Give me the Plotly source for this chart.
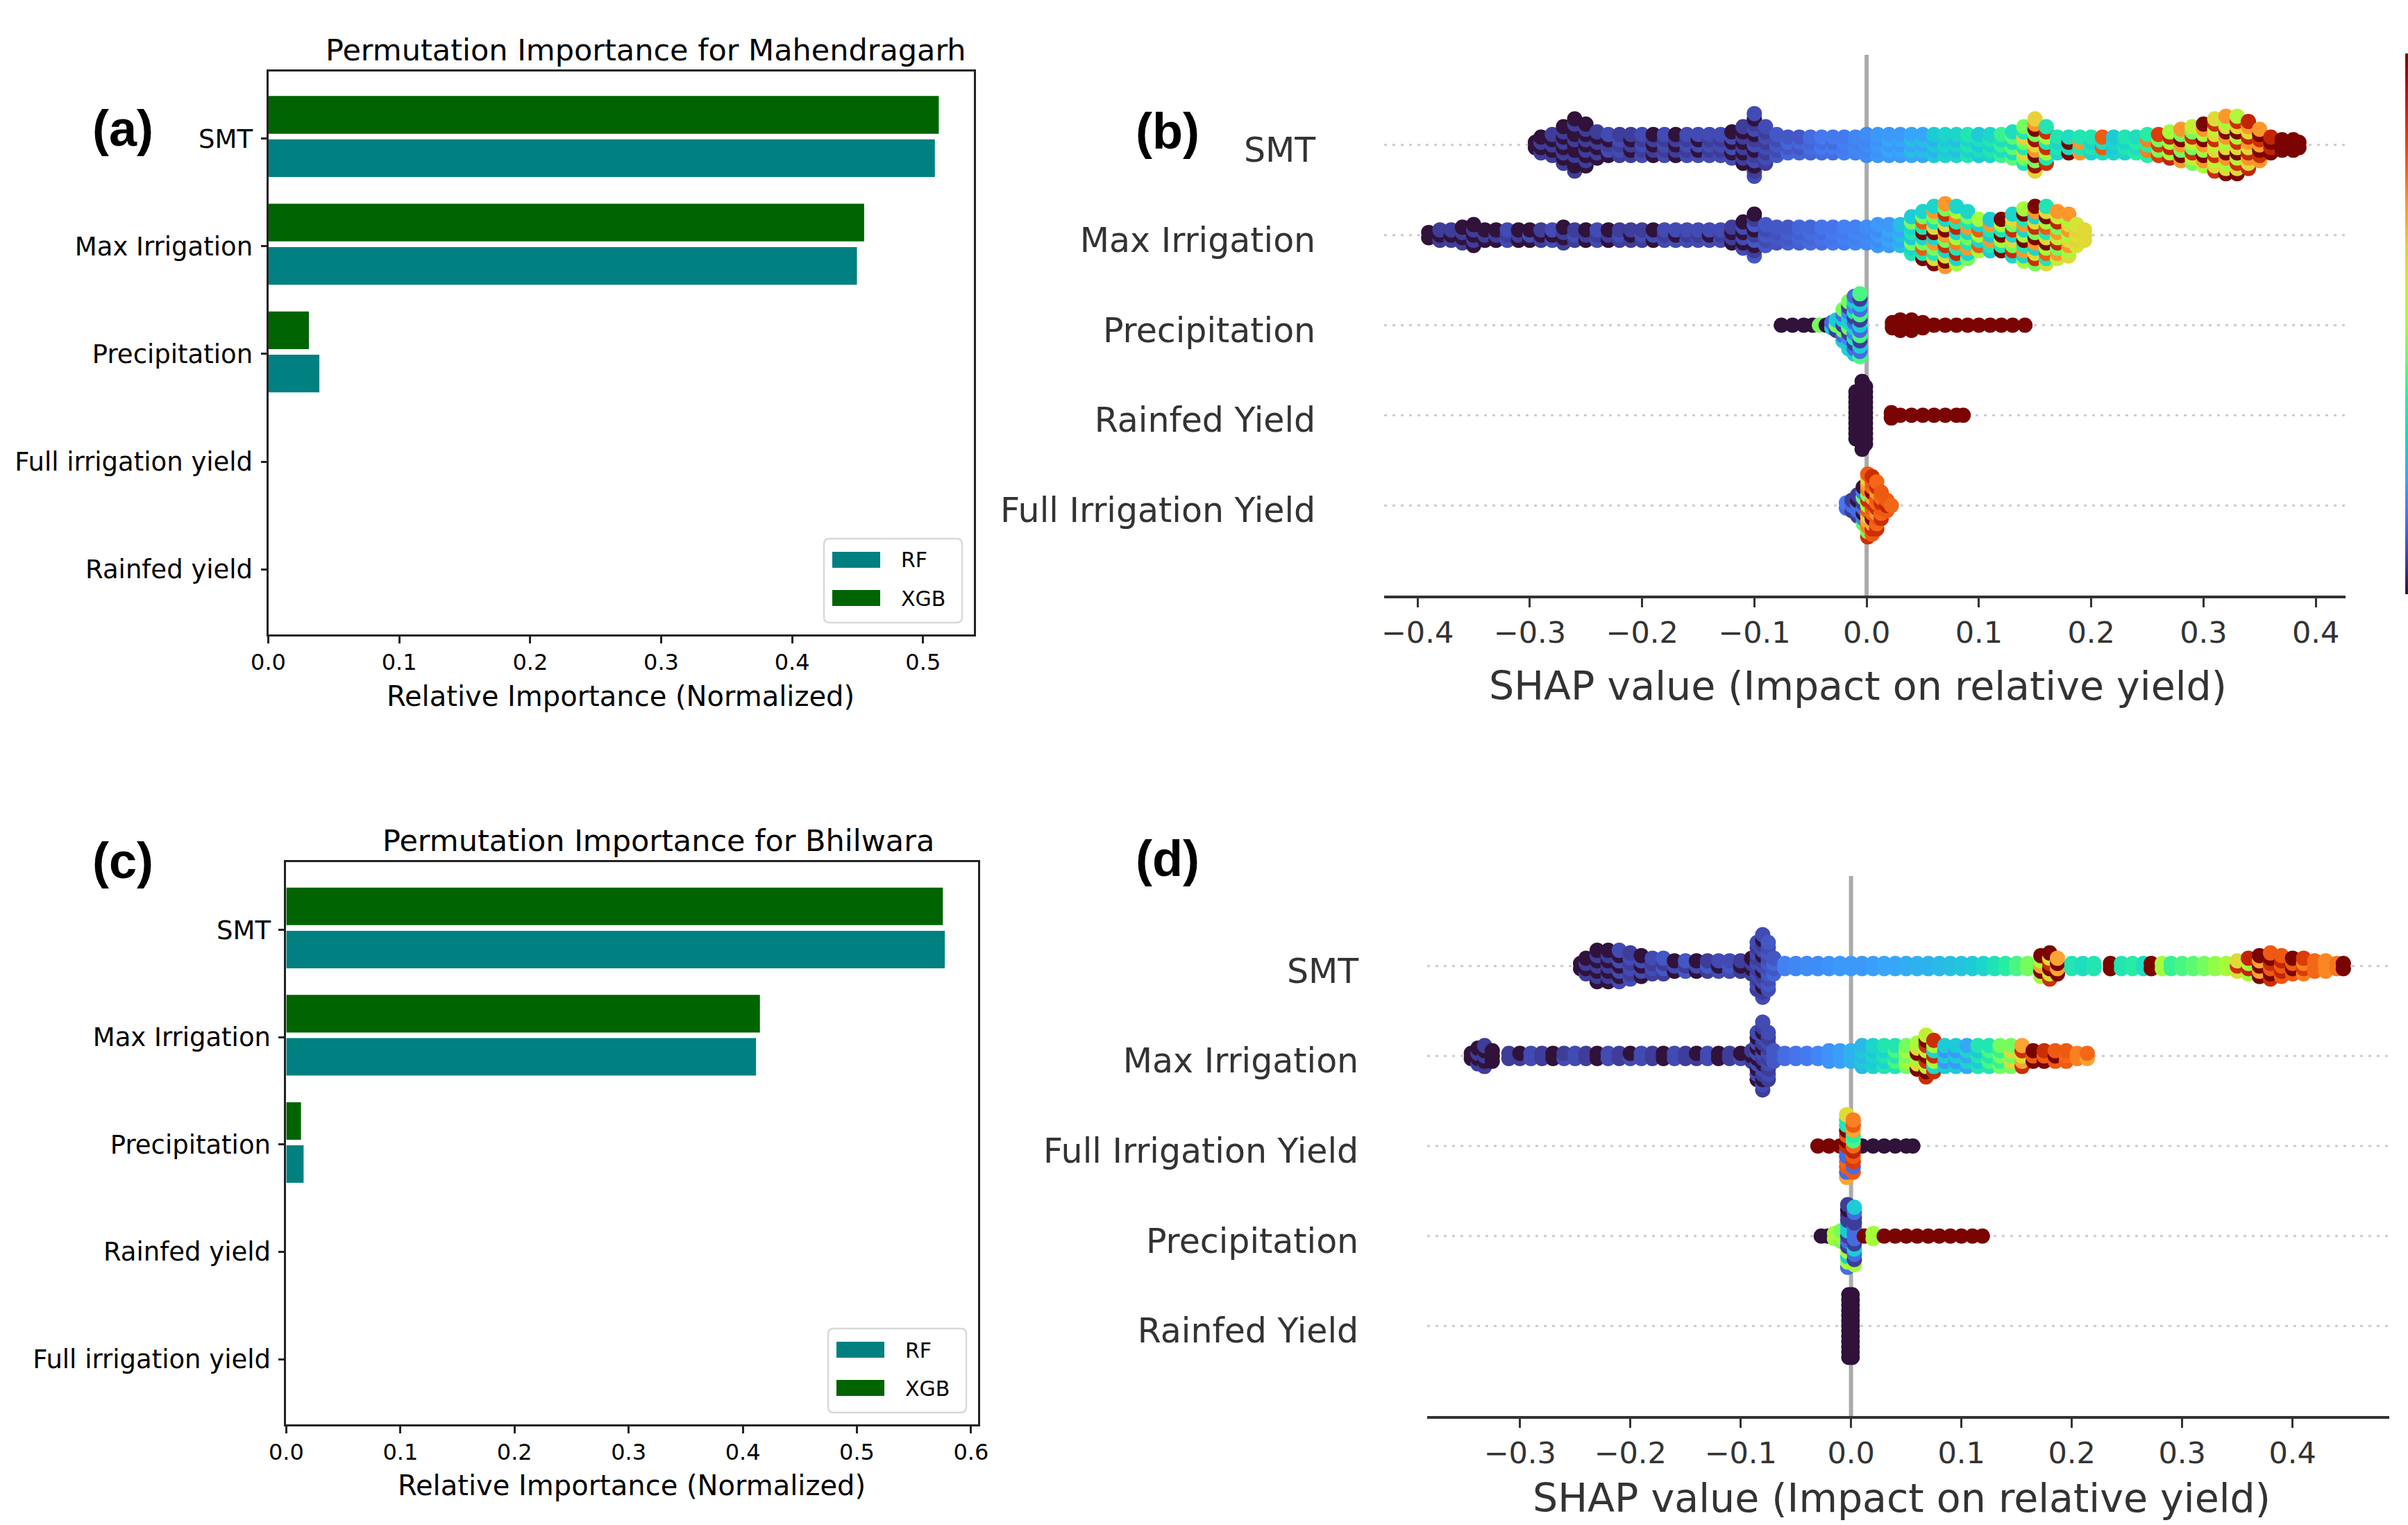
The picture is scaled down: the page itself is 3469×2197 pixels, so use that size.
import plotly.graph_objects as go

W, H = 3469, 2197
def px(x): return x / W
def py(y): return 1 - y / H

# ---------------- data: permutation importance ----------------
a_features = ["SMT", "Max Irrigation", "Precipitation", "Full irrigation yield", "Rainfed yield"]
a_rf = [0.509, 0.4495, 0.039, 0.0, 0.0]
a_xgb = [0.512, 0.455, 0.031, 0.0, 0.0]

c_features = ["SMT", "Max Irrigation", "Precipitation", "Rainfed yield", "Full irrigation yield"]
c_rf = [0.577, 0.4116, 0.0152, 0.0, 0.0]
c_xgb = [0.5753, 0.415, 0.0129, 0.0, 0.0]

# ---------------- data: SHAP beeswarm (value, stacked count, feature values) ----------------
b_features = ["Full Irrigation Yield", "Rainfed Yield", "Precipitation", "Max Irrigation", "SMT"]
d_features = ["Rainfed Yield", "Precipitation", "Full Irrigation Yield", "Max Irrigation", "SMT"]

b_smt = [
    (-0.295, 2, [0.0]), (-0.29, 4, [0.0, 0.06]), (-0.28, 5, [0.06, 0.0]), (-0.27, 8, [0.0, 0.06]),
    (-0.26, 11, [0.0, 0.06, 0.0]), (-0.25, 9, [0.06, 0.0]), (-0.24, 6, [0.0, 0.06]),
    (-0.23, 5, [0.06, 0.0, 0.08]), (-0.22, 5, [0.06, 0.08]), (-0.21, 5, [0.0, 0.06]),
    (-0.20, 5, [0.08, 0.06]), (-0.19, 5, [0.06, 0.0]), (-0.18, 5, [0.08, 0.06]),
    (-0.17, 5, [0.06, 0.0]), (-0.16, 5, [0.08, 0.06]), (-0.15, 5, [0.0, 0.08]),
    (-0.14, 5, [0.08, 0.06]), (-0.13, 5, [0.06, 0.08]), (-0.12, 6, [0.08, 0.0]),
    (-0.11, 8, [0.06, 0.0]), (-0.10, 13, [0.06, 0.0, 0.08]), (-0.09, 8, [0.08, 0.06]),
    (-0.08, 5, [0.1, 0.08]), (-0.07, 4, [0.1, 0.12]), (-0.06, 4, [0.12, 0.1]),
    (-0.05, 4, [0.13, 0.12]), (-0.04, 4, [0.13, 0.15]), (-0.03, 4, [0.15, 0.13]),
    (-0.02, 4, [0.16, 0.15]), (-0.01, 4, [0.17, 0.16]), (0.00, 5, [0.18, 0.17]),
    (0.01, 5, [0.19, 0.2]), (0.02, 5, [0.2, 0.22]), (0.03, 5, [0.22, 0.2]),
    (0.04, 5, [0.22, 0.26]), (0.05, 5, [0.26, 0.22]), (0.06, 5, [0.28, 0.24]),
    (0.07, 5, [0.28, 0.3]), (0.08, 5, [0.3, 0.26]), (0.09, 5, [0.3, 0.34]),
    (0.10, 5, [0.28, 0.32]), (0.11, 5, [0.34, 0.3]), (0.12, 5, [0.38, 0.32]),
    (0.13, 6, [0.32, 0.42]), (0.14, 8, [0.45, 0.62, 0.34]),
    (0.15, 11, [0.62, 0.95, 0.45, 1.0, 0.72]), (0.16, 8, [0.5, 0.88, 0.34]),
    (0.17, 4, [0.34, 0.3]), (0.18, 4, [1.0, 0.32]), (0.19, 4, [0.34, 0.72]),
    (0.20, 4, [0.3, 0.34]), (0.21, 4, [0.8, 0.32]), (0.22, 4, [0.3, 0.28]),
    (0.23, 4, [0.34, 0.3]), (0.24, 4, [0.36, 0.32]), (0.25, 5, [0.75, 0.36]),
    (0.26, 5, [0.85, 0.45]), (0.27, 6, [0.5, 0.9]), (0.28, 7, [0.45, 0.72, 1.0]),
    (0.29, 8, [0.55, 0.88, 0.45]), (0.30, 9, [0.5, 0.72, 1.0]), (0.31, 11, [0.55, 0.88, 0.6]),
    (0.32, 12, [0.5, 0.72, 1.0, 0.6]), (0.33, 12, [0.6, 0.88, 0.52, 1.0]),
    (0.34, 10, [0.72, 0.9, 0.6]), (0.35, 7, [0.88, 1.0, 0.72]), (0.36, 4, [1.0, 0.9]),
    (0.37, 3, [1.0]), (0.38, 3, [1.0]), (0.385, 2, [1.0]),
]
b_maxirr = [
    (-0.39, 2, [0.0]), (-0.38, 3, [0.0, 0.06]), (-0.37, 3, [0.06, 0.0]), (-0.36, 4, [0.0, 0.06]),
    (-0.35, 5, [0.0, 0.06]), (-0.34, 3, [0.06, 0.0]), (-0.33, 3, [0.0, 0.06]),
    (-0.32, 3, [0.06, 0.08]), (-0.31, 3, [0.0, 0.06]), (-0.30, 3, [0.08, 0.0]),
    (-0.29, 3, [0.06, 0.0]), (-0.28, 3, [0.0, 0.08]), (-0.27, 4, [0.06, 0.0]),
    (-0.26, 3, [0.08, 0.06]), (-0.25, 3, [0.0, 0.06]), (-0.24, 3, [0.06, 0.08]),
    (-0.23, 3, [0.0, 0.06]), (-0.22, 3, [0.08, 0.06]), (-0.21, 3, [0.06, 0.0]),
    (-0.20, 3, [0.08, 0.06]), (-0.19, 3, [0.0, 0.08]), (-0.18, 3, [0.06, 0.08]),
    (-0.17, 3, [0.08, 0.0]), (-0.16, 3, [0.06, 0.08]), (-0.15, 3, [0.08, 0.06]),
    (-0.14, 3, [0.0, 0.08]), (-0.13, 3, [0.08, 0.06]), (-0.12, 4, [0.06, 0.0]),
    (-0.11, 6, [0.08, 0.0]), (-0.10, 9, [0.06, 0.0, 0.1]), (-0.09, 5, [0.1, 0.08]),
    (-0.08, 4, [0.1, 0.09]), (-0.07, 4, [0.11, 0.1]), (-0.06, 4, [0.12, 0.11]),
    (-0.05, 4, [0.13, 0.12]), (-0.04, 4, [0.14, 0.13]), (-0.03, 4, [0.15, 0.14]),
    (-0.02, 4, [0.16, 0.15]), (-0.01, 4, [0.17, 0.16]), (0.00, 4, [0.18, 0.17]),
    (0.01, 5, [0.2, 0.18]), (0.02, 5, [0.22, 0.2]), (0.03, 5, [0.26, 0.22]),
    (0.04, 8, [0.3, 0.45, 0.28, 0.34]), (0.05, 10, [0.34, 0.8, 0.45, 0.3, 1.0]),
    (0.06, 12, [0.45, 0.72, 0.3, 1.0, 0.6, 0.34]), (0.07, 13, [0.6, 0.3, 0.88, 0.45, 0.72, 1.0]),
    (0.08, 12, [0.34, 0.75, 0.5, 0.3, 0.9]), (0.09, 10, [0.45, 0.3, 0.72, 0.34]),
    (0.10, 7, [0.3, 0.5, 0.8]), (0.11, 7, [0.34, 0.72, 0.28]), (0.12, 7, [1.0, 0.34, 0.5]),
    (0.13, 9, [0.3, 0.88, 0.45, 0.6]), (0.14, 11, [0.72, 0.34, 1.0, 0.5, 0.3]),
    (0.15, 12, [0.45, 0.88, 0.6, 0.3, 0.72, 1.0]), (0.16, 12, [0.6, 0.34, 0.8, 0.5, 1.0]),
    (0.17, 10, [0.55, 0.72, 0.45, 0.9]), (0.18, 9, [0.6, 0.5, 0.72]),
    (0.187, 5, [0.58, 0.62]), (0.194, 3, [0.6]),
]
b_precip = [
    (-0.076, 1, [0.0]), (-0.066, 1, [0.0]), (-0.056, 1, [0.0]), (-0.048, 1, [0.0]),
    (-0.042, 1, [0.45]), (-0.036, 1, [0.0]), (-0.031, 2, [0.28, 0.13]),
    (-0.027, 3, [0.28, 0.06, 0.45]), (-0.021, 7, [0.28, 0.13, 0.45, 0.06]),
    (-0.016, 10, [0.28, 0.17, 0.06, 0.45, 0.3]), (-0.011, 12, [0.28, 0.13, 0.06, 0.34, 0.17]),
    (-0.006, 13, [0.13, 0.28, 0.06, 0.4]),
    (0.023, 2, [1.0]), (0.03, 3, [1.0]), (0.04, 3, [1.0]), (0.05, 2, [1.0]),
    (0.06, 1, [1.0]), (0.07, 1, [1.0]), (0.08, 1, [1.0]), (0.09, 1, [1.0]), (0.10, 1, [1.0]),
    (0.11, 1, [1.0]), (0.12, 1, [1.0]), (0.13, 1, [1.0]), (0.141, 1, [1.0]),
]
b_rainfed = [
    (-0.0095, 10, [0.0]), (-0.004, 14, [0.0]), (-0.001, 12, [0.0]),
    (0.022, 2, [1.0]), (0.03, 1, [1.0]), (0.04, 1, [1.0]), (0.05, 1, [1.0]),
    (0.06, 1, [1.0]), (0.07, 1, [1.0]), (0.08, 1, [1.0]), (0.086, 1, [1.0]),
]
b_fullirr = [
    (-0.018, 2, [0.13, 0.15]), (-0.013, 3, [0.13, 0.06]), (-0.008, 5, [0.13, 0.0, 0.06, 0.13]),
    (-0.003, 8, [0.0, 0.13, 0.06, 0.43, 0.15]), (0.001, 13, [0.7, 0.62, 0.8, 0.5, 0.88, 0.45, 0.75]),
    (0.005, 12, [0.8, 0.88, 0.7, 1.0, 0.78]), (0.009, 10, [0.8, 0.72, 0.88, 0.78]),
    (0.013, 6, [0.8, 0.88, 0.78]), (0.018, 3, [0.8, 0.9]), (0.022, 1, [0.78]),
]

d_smt = [
    (-0.245, 2, [0.0]), (-0.24, 4, [0.0, 0.06]), (-0.23, 7, [0.0, 0.06]), (-0.22, 7, [0.06, 0.0]),
    (-0.21, 7, [0.08, 0.0]), (-0.20, 6, [0.06, 0.08]), (-0.19, 5, [0.0, 0.08]),
    (-0.18, 4, [0.08, 0.06]), (-0.17, 4, [0.06, 0.1]), (-0.16, 3, [0.08, 0.0]),
    (-0.15, 3, [0.1, 0.06]), (-0.14, 3, [0.08, 0.0]), (-0.13, 3, [0.06, 0.1]),
    (-0.12, 3, [0.0, 0.08]), (-0.11, 3, [0.08, 0.1]), (-0.10, 3, [0.0, 0.06]),
    (-0.09, 4, [0.06, 0.0]), (-0.085, 10, [0.08, 0.06]), (-0.08, 13, [0.08, 0.06, 0.0]),
    (-0.075, 10, [0.1, 0.08]), (-0.07, 4, [0.12, 0.1]),
    (-0.06, 2, [0.16]), (-0.05, 2, [0.17]), (-0.04, 2, [0.18]), (-0.03, 2, [0.18]),
    (-0.02, 2, [0.19]), (-0.01, 2, [0.2]), (0.00, 2, [0.2]), (0.01, 2, [0.2]),
    (0.02, 2, [0.21]), (0.03, 2, [0.22]), (0.04, 2, [0.22]), (0.05, 2, [0.23]),
    (0.06, 2, [0.24]), (0.07, 2, [0.24]), (0.08, 2, [0.25]), (0.09, 2, [0.26]),
    (0.10, 2, [0.27]), (0.11, 2, [0.28]), (0.12, 2, [0.3]), (0.13, 2, [0.33]),
    (0.14, 2, [0.36]), (0.15, 2, [0.4]), (0.16, 2, [0.45]),
    (0.172, 5, [1.0, 0.7, 0.5]), (0.18, 6, [0.88, 0.6, 1.0]), (0.187, 4, [1.0, 0.7]),
    (0.20, 2, [0.34]), (0.21, 2, [0.32]), (0.22, 2, [0.34]), (0.235, 2, [1.0]),
    (0.245, 2, [0.34]), (0.255, 2, [0.36]), (0.265, 2, [0.32]), (0.272, 2, [1.0]),
    (0.282, 2, [0.5]), (0.29, 2, [0.38]), (0.30, 2, [0.4]), (0.31, 2, [0.42]),
    (0.32, 2, [0.45]), (0.33, 2, [0.48]), (0.34, 2, [0.5]), (0.35, 3, [0.6, 0.88]),
    (0.36, 4, [0.9, 0.5]), (0.37, 5, [1.0, 0.7]), (0.38, 6, [1.0, 0.8, 0.88]),
    (0.39, 5, [0.8, 0.9]), (0.40, 4, [1.0, 0.8]), (0.41, 4, [0.75, 0.85]),
    (0.42, 3, [0.78]), (0.43, 3, [0.74]), (0.44, 2, [0.76]), (0.446, 2, [1.0]),
]
d_maxirr = [
    (-0.344, 2, [0.0]), (-0.338, 4, [0.0, 0.06]), (-0.332, 5, [0.06, 0.0]), (-0.325, 3, [0.0]),
    (-0.31, 2, [0.06]), (-0.30, 2, [0.0, 0.06]), (-0.29, 2, [0.08]), (-0.28, 2, [0.06]),
    (-0.27, 2, [0.0]), (-0.26, 2, [0.06, 0.08]), (-0.25, 2, [0.08]), (-0.24, 2, [0.06]),
    (-0.23, 2, [0.0]), (-0.22, 2, [0.08]), (-0.21, 2, [0.06]), (-0.20, 2, [0.0, 0.08]),
    (-0.19, 2, [0.08]), (-0.18, 2, [0.06]), (-0.17, 2, [0.0]), (-0.16, 2, [0.08]),
    (-0.15, 2, [0.06]), (-0.14, 2, [0.0, 0.06]), (-0.13, 2, [0.08]), (-0.12, 2, [0.0]),
    (-0.11, 2, [0.06]), (-0.10, 2, [0.0, 0.08]),
    (-0.09, 3, [0.06, 0.0]), (-0.085, 10, [0.08, 0.0]), (-0.08, 14, [0.0, 0.06, 0.08]),
    (-0.075, 10, [0.08, 0.06]), (-0.07, 3, [0.1]),
    (-0.06, 2, [0.13]), (-0.05, 2, [0.14]), (-0.04, 2, [0.15]), (-0.03, 2, [0.17]),
    (-0.02, 3, [0.19]), (-0.01, 3, [0.21]), (0.00, 3, [0.24]),
    (0.01, 5, [0.25, 0.28]), (0.02, 5, [0.28, 0.3]), (0.03, 5, [0.34, 0.3]),
    (0.04, 5, [0.4, 0.34]), (0.05, 5, [0.45, 0.5]), (0.06, 6, [0.5, 1.0, 0.6]),
    (0.068, 9, [1.0, 0.55, 0.88]), (0.075, 7, [0.88, 0.3, 0.5]),
    (0.085, 5, [0.28, 0.2]), (0.095, 5, [0.2, 0.28]), (0.105, 5, [0.22, 0.3]),
    (0.115, 5, [0.28, 0.34]), (0.125, 5, [0.34, 0.4]), (0.135, 5, [0.38, 0.45]),
    (0.145, 5, [0.45, 0.6]), (0.155, 5, [0.7, 0.6, 0.88]), (0.165, 3, [1.0, 0.8]),
    (0.175, 3, [0.88, 1.0, 0.8]), (0.185, 3, [0.8, 1.0]), (0.195, 3, [0.78, 0.8]),
    (0.205, 2, [0.75]), (0.214, 2, [0.78, 0.7]),
]
d_fullirr = [
    (-0.03, 1, [1.0]), (-0.02, 1, [1.0]), (-0.01, 1, [1.0]),
    (0.01, 1, [0.0]), (0.02, 1, [0.0]), (0.03, 1, [0.0]), (0.04, 1, [0.0]),
    (0.05, 1, [0.0]), (0.056, 1, [0.0]),
    (-0.004, 13, [0.13, 0.13, 0.88, 1.0, 0.8, 1.0, 0.34, 0.34, 0.6, 0.7, 0.13, 0.8, 0.78]),
    (0.002, 11, [0.13, 0.85, 0.8, 0.9, 0.78, 0.4, 0.36, 0.7, 0.8, 0.75, 0.8]),
]
d_precip = [
    (-0.027, 1, [0.0]), (-0.021, 1, [0.0]), (-0.015, 2, [0.5]), (-0.009, 3, [0.5, 0.45]),
    (-0.003, 13, [0.06, 0.06, 0.0, 0.06, 0.13, 0.5, 0.28, 0.5, 0.06, 0.13, 0.06, 0.28, 0.28]),
    (0.003, 12, [0.13, 0.06, 0.06, 0.13, 0.28, 0.5, 0.06, 0.13, 0.28, 0.06, 0.13, 0.13]),
    (0.012, 1, [1.0]), (0.02, 2, [0.5]),
    (0.03, 1, [1.0]), (0.04, 1, [1.0]), (0.05, 1, [1.0]), (0.06, 1, [1.0]), (0.07, 1, [1.0]),
    (0.08, 1, [1.0]), (0.09, 1, [1.0]), (0.10, 1, [1.0]), (0.11, 1, [1.0]), (0.119, 1, [1.0]),
]
d_rainfed = [(-0.002, 13, [0.0]), (0.001, 13, [0.0])]

b_rows = [b_fullirr, b_rainfed, b_precip, b_maxirr, b_smt]
d_rows = [d_rainfed, d_precip, d_fullirr, d_maxirr, d_smt]

# ---------------- styling ----------------
RF_C, XGB_C = "#008080", "#006400"
FONT = "DejaVu Sans"
DY = 0.058      # vertical step of stacked swarm points (row units)
MSIZE = 22


def swarm(rows):
    xs, ys, cs = [], [], []
    for r, bins in enumerate(rows):
        for i, (x, n, cols) in enumerate(bins):
            for k in range(n):
                xs.append(x)
                ys.append(r + (k - (n - 1) / 2) * DY)
                cs.append(cols[(k + i) % len(cols)])
    return xs, ys, cs


fig = go.Figure()

# bar panels
for feats, rf, xgb, xa, ya in [(a_features, a_rf, a_xgb, "x", "y"),
                                (c_features, c_rf, c_xgb, "x3", "y3")]:
    fig.add_trace(go.Bar(y=feats, x=rf, orientation="h", name="RF", marker=dict(color=RF_C, line_width=0),
                         offset=0.007, width=0.35, xaxis=xa, yaxis=ya, showlegend=False))
    fig.add_trace(go.Bar(y=feats, x=xgb, orientation="h", name="XGB", marker=dict(color=XGB_C, line_width=0),
                         offset=-0.395, width=0.35, xaxis=xa, yaxis=ya, showlegend=False))

# swarm panels
bx, by, bc = swarm(b_rows)
fig.add_trace(go.Scatter(x=bx, y=by, mode="markers", xaxis="x2", yaxis="y2", showlegend=False,
                         marker=dict(size=MSIZE, color=bc, colorscale="Turbo", cmin=0, cmax=1, line_width=0,
                                     showscale=True,
                                     colorbar=dict(x=px(3465), xanchor="left", xpad=0, ypad=0, thickness=40,
                                                   lenmode="pixels", len=779, y=py(466.5), yanchor="middle",
                                                   showticklabels=False, ticks="", outlinewidth=0))))
dx, dyv, dc = swarm(d_rows)
fig.add_trace(go.Scatter(x=dx, y=dyv, mode="markers", xaxis="x4", yaxis="y4", showlegend=False,
                         marker=dict(size=MSIZE, color=dc, colorscale="Turbo", cmin=0, cmax=1, line_width=0,
                                     showscale=False)))

bar_x = dict(showline=True, mirror=True, linecolor="#222", linewidth=3, ticks="outside", ticklen=10,
             tickwidth=2.5, tickcolor="#222", showgrid=False, zeroline=False, dtick=0.1, tick0=0,
             tickformat=".1f", tickfont=dict(family=FONT, size=32, color="#000"))
bar_y = dict(showline=True, mirror=True, linecolor="#222", linewidth=3, ticks="outside", ticklen=8,
             tickwidth=2.5, tickcolor="#222", showgrid=False, zeroline=False, type="category",
             ticklabelstandoff=4, tickfont=dict(family=FONT, size=37, color="#000"))
sw_x = dict(showline=True, linecolor="#333", linewidth=3.5, ticks="outside", ticklen=13, tickwidth=2.5,
            tickcolor="#333", showgrid=False, zeroline=False, dtick=0.1, tick0=0, tickformat=".1f",
            tickfont=dict(family=FONT, size=43, color="#333"))
sw_y = dict(showline=False, showgrid=False, zeroline=False, tickvals=[0, 1, 2, 3, 4], range=[-1, 5],
            ticks="outside", ticklen=88, tickcolor="rgba(0,0,0,0)", ticklabelshift=7,
            tickfont=dict(family=FONT, size=49, color="#333"))

fig.update_layout(
    width=W, height=H, margin=dict(l=0, r=0, t=0, b=0, autoexpand=False),
    paper_bgcolor="white", plot_bgcolor="white", barmode="overlay",
    xaxis=dict(bar_x, domain=[px(386.5), px(1402.8)], range=[0, 0.5387], anchor="y"),
    yaxis=dict(bar_y, domain=[py(914), py(102.5)], categoryarray=a_features, categoryorder="array",
               range=[4.604, -0.626], anchor="x"),
    xaxis3=dict(bar_x, domain=[px(412.4), px(1409.3)], range=[0, 0.6063], anchor="y3"),
    yaxis3=dict(bar_y, domain=[py(2052), py(1242.3)], categoryarray=c_features, categoryorder="array",
                range=[4.608, -0.631], anchor="x3"),
    xaxis2=dict(sw_x, domain=[px(1994), px(3379)], range=[-0.4297, 0.4265], anchor="y2"),
    yaxis2=dict(sw_y, domain=[py(858), py(79)], ticktext=b_features, anchor="x2"),
    xaxis4=dict(sw_x, domain=[px(2056), px(3442)], range=[-0.384, 0.4876], anchor="y4"),
    yaxis4=dict(sw_y, domain=[py(2040), py(1262)], ticktext=d_features, anchor="x4"),
)

shapes = []
for xa, ya in [("x2", "y2"), ("x4", "y4")]:
    shapes.append(dict(type="line", xref=xa, yref=f"{ya} domain", x0=0, x1=0, y0=0, y1=1,
                       line=dict(color="#ababab", width=6), layer="below"))
    for r in range(5):
        shapes.append(dict(type="line", xref=f"{xa} domain", yref=ya, x0=0, x1=1, y0=r, y1=r,
                           line=dict(color="#cccccc", width=3, dash="4px,8px"), layer="below"))


def rrect(x0, y0, x1, y1, r):
    pts = [f"M {px(x0 + r)},{py(y0)}", f"L {px(x1 - r)},{py(y0)}", f"Q {px(x1)},{py(y0)} {px(x1)},{py(y0 + r)}",
           f"L {px(x1)},{py(y1 - r)}", f"Q {px(x1)},{py(y1)} {px(x1 - r)},{py(y1)}",
           f"L {px(x0 + r)},{py(y1)}", f"Q {px(x0)},{py(y1)} {px(x0)},{py(y1 - r)}",
           f"L {px(x0)},{py(y0 + r)}", f"Q {px(x0)},{py(y0)} {px(x0 + r)},{py(y0)}", "Z"]
    return " ".join(pts)


annotations = []
for (bx0, by0) in [(1187, 776), (1193, 1914)]:
    shapes.append(dict(type="path", xref="paper", yref="paper", path=rrect(bx0, by0, bx0 + 199, by0 + 121, 8),
                       line=dict(color="#d9d9d9", width=2.5), fillcolor="rgba(255,255,255,0.8)"))
    for j, (lab, col) in enumerate([("RF", RF_C), ("XGB", XGB_C)]):
        y0 = by0 + 19 + j * 55
        shapes.append(dict(type="rect", xref="paper", yref="paper", x0=px(bx0 + 12), x1=px(bx0 + 81),
                           y0=py(y0 + 23), y1=py(y0), line_width=0, fillcolor=col))
        annotations.append(dict(text=lab, xref="paper", yref="paper", x=px(bx0 + 109), y=py(y0 + 12),
                                xanchor="left", yanchor="middle", showarrow=False,
                                font=dict(family=FONT, size=30, color="#000")))

texts = [
    ("Permutation Importance for Mahendragarh", 930, 72, 43, "#000", FONT),
    ("Permutation Importance for Bhilwara", 948, 1211, 43, "#000", FONT),
    ("Relative Importance (Normalized)", 894, 1003, 40, "#000", FONT),
    ("Relative Importance (Normalized)", 910, 2140, 40, "#000", FONT),
    ("SHAP value (Impact on relative yield)", 2676, 988, 57, "#333", FONT),
    ("SHAP value (Impact on relative yield)", 2739, 2158, 57, "#333", FONT),
    ("<b>(a)</b>", 177, 185, 72, "#000", "Liberation Sans"),
    ("<b>(b)</b>", 1682, 189, 72, "#000", "Liberation Sans"),
    ("<b>(c)</b>", 177, 1240, 72, "#000", "Liberation Sans"),
    ("<b>(d)</b>", 1682, 1237, 72, "#000", "Liberation Sans"),
]
for t, x, y, s, c, f in texts:
    annotations.append(dict(text=t, xref="paper", yref="paper", x=px(x), y=py(y), xanchor="center",
                            yanchor="middle", showarrow=False, font=dict(family=f, size=s, color=c)))

fig.update_layout(shapes=shapes, annotations=annotations)
fig.write_html("out.html", config={"displayModeBar": False},
               post_script="document.body.style.margin='0px';document.body.style.overflow='hidden';")
